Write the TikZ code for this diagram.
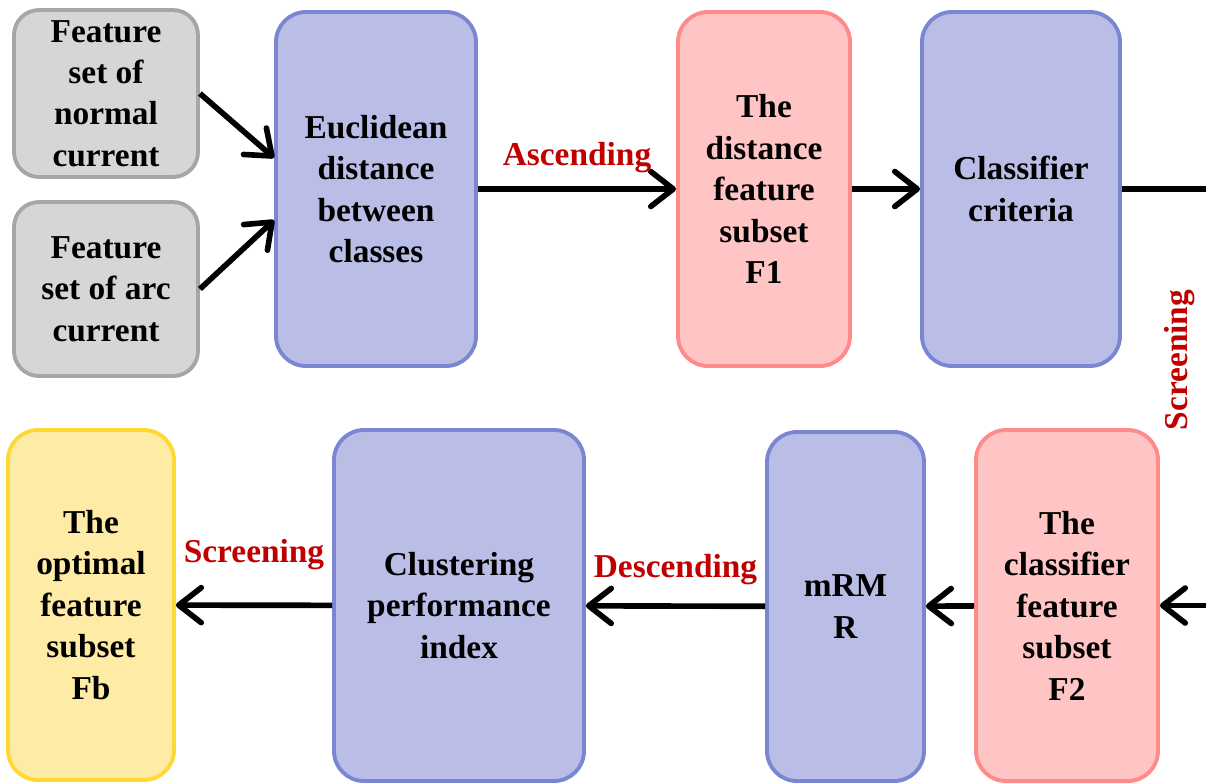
\documentclass[tikz,border=0pt]{standalone}
\usepackage{fontspec}
\setmainfont{Liberation Serif}[BoldFont={Liberation Serif Bold}]
\newfontfamily\boxfont{Liberation Serif}[UprightFont={* Bold}]
\usetikzlibrary{arrows.meta}

\definecolor{bluefill}{RGB}{186,190,230}
\definecolor{blueline}{RGB}{122,134,210}
\definecolor{pinkfill}{RGB}{255,196,196}
\definecolor{pinkline}{RGB}{255,138,138}
\definecolor{greyfill}{RGB}{214,214,214}
\definecolor{greyline}{RGB}{166,166,166}
\definecolor{yellowfill}{RGB}{254,236,166}
\definecolor{yellowline}{RGB}{255,217,51}
\definecolor{redtext}{RGB}{192,0,0}

\begin{document}
\begin{tikzpicture}[
	box/.style={draw, line width=2.2pt, rounded corners=0.6cm, align=center,
		font=\boxfont\fontsize{19}{23.6}\selectfont},
	greybox/.style={box, draw=greyline, fill=greyfill, rounded corners=0.5cm},
	bluebox/.style={box, draw=blueline, fill=bluefill},
	pinkbox/.style={box, draw=pinkline, fill=pinkfill},
	yellowbox/.style={box, draw=yellowline, fill=yellowfill},
	lbl/.style={text=redtext, font=\boxfont\fontsize{19}{23.6}\selectfont},
	arr/.style={-{Straight Barb[length=4.5mm, width=7mm, line cap=round, line join=round]},
		line width=3.2pt}
]

% Keep the page the size of the diagram
\useasboundingbox (0,0) rectangle (24.12,-15.66);

% Boxes
\newcommand{\tbox}[6]{
	\node[#3, minimum width=#4cm, minimum height=#5cm]
		(#1) at (#2) {#6}
	;
}
\tbox  {normal} {2.12,-1.87}   {greybox}   {3.68} {3.34} {Feature\\set of\\normal\\current}
\tbox  {arc}    {2.12,-5.78}   {greybox}   {3.68} {3.48} {Feature\\set of arc\\current}
\tbox  {euclid} {7.52,-3.78}   {bluebox}   {4.00} {7.08} {Euclidean\\distance\\between\\classes}
\tbox  {fone}   {15.28,-3.78}  {pinkbox}   {3.44} {7.08} {The\\distance\\feature\\subset\\F1}
\tbox  {crit}   {20.42,-3.78}  {bluebox}   {3.96} {7.08} {Classifier\\criteria}
\tbox  {ftwo}   {21.34,-12.11} {pinkbox}   {3.64} {7.02} {The\\classifier\\feature\\subset\\F2}
\tbox  {mrmr}   {16.91,-12.13} {bluebox}   {3.14} {6.98} {mRM\\R}
\tbox  {clust}  {9.18,-12.11}  {bluebox}   {5.00} {7.02} {Clustering\\performance\\index}
\tbox  {fb}     {1.82,-12.10}  {yellowbox} {3.32} {7.00} {The\\optimal\\feature\\subset\\Fb}

% Loop round the right edge
\coordinate (rone) at (24.12,-3.78);
\coordinate (rtwo) at (24.12,-12.11);
\node[lbl, rotate=90] (screenv) at (23.6,-7.2) {Screening};

% Arrows
\newcommand{\arr}[4]{
	\draw[arr]
		(#1) -- node[lbl, above=#4] {#3} (#2)
	;
}
\arr  {normal.east} {euclid.163} {}           {0pt}
\arr  {arc.east}    {euclid.197} {}           {0pt}
\arr  {euclid}      {fone}       {Ascending}  {4pt}
\arr  {fone}        {crit}       {}           {0pt}
\draw[line width=3.2pt] (crit.east) -- (rone);
\arr  {rtwo}        {ftwo.east}  {}           {0pt}
\arr  {ftwo}        {mrmr}       {}           {0pt}
\arr  {mrmr}        {clust}      {Descending} {7pt}
\arr  {clust}       {fb}         {Screening}  {15pt}
\end{tikzpicture}
\end{document}
